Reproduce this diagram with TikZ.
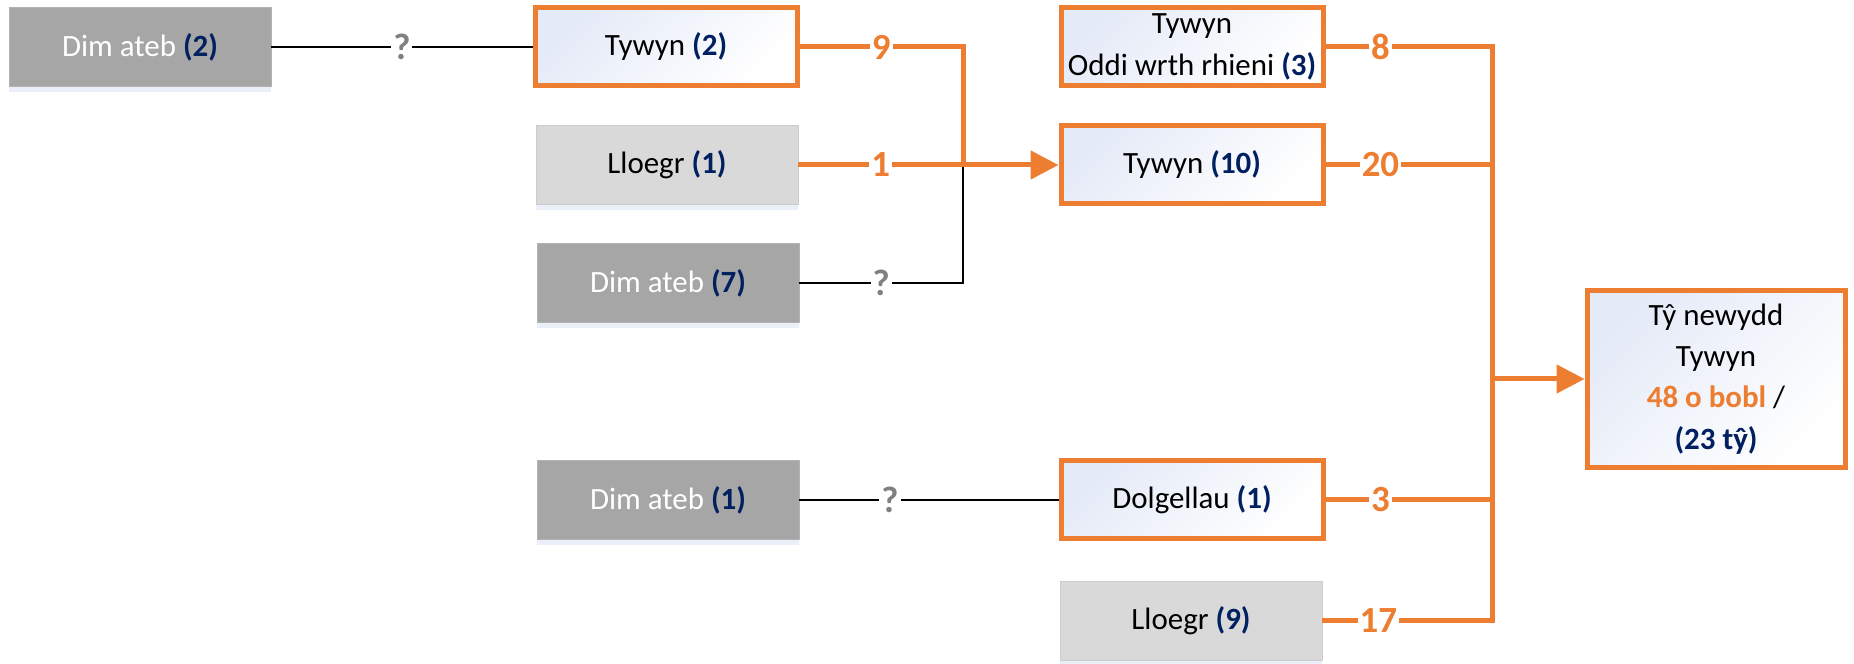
\documentclass[tikz,border=0pt]{standalone}
\usepackage{fontspec}
\setmainfont{Carlito}
\usetikzlibrary{arrows.meta,shadows}
\definecolor{lineOrange}{RGB}{237,125,49}
\definecolor{cntBlue}{RGB}{0,32,96}
\definecolor{greyDark}{RGB}{166,166,166}
\definecolor{greyLight}{RGB}{217,217,217}
\definecolor{askGrey}{RGB}{128,128,128}
\definecolor{boxTint}{RGB}{228,234,247}
\definecolor{shadowBlue}{RGB}{205,218,238}
\newcommand{\boxfont}{\fontsize{17.6}{23.5}\selectfont}
\newcommand{\labfont}{\fontsize{21}{24}\selectfont}
\newcommand{\cnt}[1]{\textcolor{cntBlue}{\bfseries(#1)}}

\begin{document}
\begin{tikzpicture}[x=0.2mm, y=-0.2mm,
    outbox/.style={draw=lineOrange, line width=1mm, top color=boxTint, bottom color=white,
      shading angle=45, minimum width=52.4mm, minimum height=15.6mm, inner sep=0pt,
      align=center, font=\boxfont},
    greybox/.style={fill=greyDark, draw=greyDark!85!white, line width=0.3pt, text=white,
      minimum width=52.4mm, minimum height=15.8mm, inner sep=0pt, font=\boxfont,
      drop shadow={shadow xshift=0mm, shadow yshift=-1.2mm, opacity=.4, fill=shadowBlue}},
    palebox/.style={greybox, fill=greyLight, draw=greyLight!85!gray, text=black},
    flow/.style={draw=lineOrange, line width=1mm},
    link/.style={draw=black, line width=0.6pt},
    num/.style={fill=white, inner sep=0.4mm, text=lineOrange, font=\labfont\bfseries},
    ask/.style={fill=white, inner sep=0.4mm, text=askGrey, font=\labfont\bfseries},
    tip/.style={-{Triangle[length=5.6mm, width=5.6mm]}}
  ]
  \useasboundingbox (0,0) rectangle (1854,664);

  % left column
  \node[greybox] (dim2) at (140,47) {Dim ateb \cnt{2}};
  \node[outbox] (tywynA) at (666,47) {Tywyn \cnt{2}};
  \node[palebox] (lloegrA) at (667,165) {Lloegr \cnt{1}};
  \node[greybox] (dim7) at (668,283) {Dim ateb \cnt{7}};
  \node[greybox] (dim1) at (668,500) {Dim ateb \cnt{1}};

  % middle column
  \node[outbox] (rhieni) at (1192,47) {Tywyn\\Oddi wrth rhieni \cnt{3}};
  \node[outbox] (tywyn10) at (1192,165) {Tywyn \cnt{10}};
  \node[outbox] (dolgellau) at (1192,500) {Dolgellau \cnt{1}};
  \node[palebox] (lloegr9) at (1191,621) {Lloegr \cnt{9}};

  % result
  \node[outbox, minimum width=51.6mm, minimum height=35.4mm] (newhouse) at (1716,379)
    {Tŷ newydd\\Tywyn\\\textcolor{lineOrange}{\bfseries 48 o bobl} /\\\cnt{23 tŷ}};

  \coordinate (jL) at (963,0);
  \coordinate (bus) at (1492,0);

  % links into Tywyn (10)
  \draw[link] (dim2) -- node[ask] {?} (tywynA);
  \draw[link] (dim7.east) -- node[ask] {?} (dim7.east -| jL) -- (lloegrA.east -| jL);
  \draw[flow] (tywynA.east) -- node[num] {9} (tywynA.east -| jL) -- (lloegrA.east -| jL);
  \draw[flow] (lloegrA.east) -- node[num] {1} (lloegrA.east -| jL);
  \draw[flow, tip] (lloegrA.east -| jL) -- (tywyn10.west);
  \draw[link] (dim1) -- node[ask, pos=.35] {?} (dolgellau);

  % links into the new houses
  \draw[flow] (rhieni.east) -- node[num, pos=.33] {8} (rhieni.east -| bus)
    -- (lloegr9.east -| bus) -- node[num, pos=.67] {17} (lloegr9.east);
  \draw[flow] (tywyn10.east) -- node[num, pos=.33] {20} (tywyn10.east -| bus);
  \draw[flow] (dolgellau.east) -- node[num, pos=.33] {3} (dolgellau.east -| bus);
  \draw[flow, tip] (newhouse.west -| bus) -- (newhouse.west);
\end{tikzpicture}
\end{document}
